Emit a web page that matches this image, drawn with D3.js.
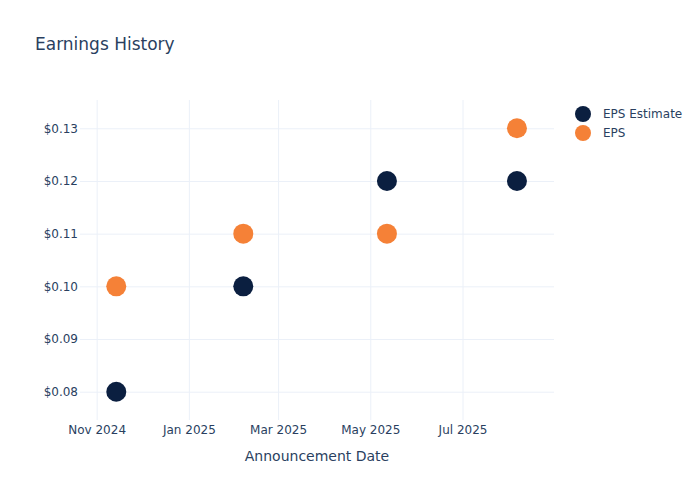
<!DOCTYPE html>
<html>
<head>
<meta charset="utf-8">
<script src="https://cdn.jsdelivr.net/npm/d3@7"></script>
<style>
  body { margin: 0; background: #fff; }
  svg, svg text { font-family: "DejaVu Sans", sans-serif; }
</style>
</head>
<body>
<svg id="chart" width="700" height="500"></svg>
<script>
const dates = ["2024-11-14", "2025-02-06", "2025-05-12", "2025-08-06"];
const epsEstimate = [0.08, 0.10, 0.12, 0.12];
const eps = [0.10, 0.11, 0.11, 0.13];
const seriesNames = ["EPS Estimate", "EPS"];
const seriesColors = ["#0b1f40", "#f58137"];
const yTicks = [0.08, 0.09, 0.10, 0.11, 0.12, 0.13];
const xTickDates = ["2024-11-01", "2025-01-01", "2025-03-01", "2025-05-01", "2025-07-01"];
const xDomain = ["2024-10-21", "2025-08-30T12:00"];
const yDomain = [0.07463, 0.13537];

const parse = d => new Date(d.length > 10 ? d : d + "T00:00:00");
const svg = d3.select("#chart");
const textColor = "#2a3f5f";
const gridColor = "#ebf0f8";
const font = "DejaVu Sans";
const m = { left: 80, right: 554, top: 100, bottom: 420 };

const x = d3.scaleTime().domain(xDomain.map(parse)).range([m.left, m.right]);
const y = d3.scaleLinear().domain(yDomain).range([m.bottom, m.top]);

// grid
const gx = svg.append("g").attr("transform", `translate(0,${m.bottom})`)
  .call(d3.axisBottom(x).tickValues(xTickDates.map(parse))
    .tickSize(-(m.bottom - m.top)).tickFormat(d3.timeFormat("%b %Y")).tickPadding(5));
gx.attr("font-family", font);
gx.select(".domain").remove();
gx.selectAll(".tick line").attr("stroke", gridColor).attr("stroke-width", 1);
gx.selectAll(".tick text").attr("fill", textColor).attr("font-size", 12);

const gy = svg.append("g").attr("transform", `translate(${m.left},0)`)
  .call(d3.axisLeft(y).tickValues(yTicks)
    .tickSize(-(m.right - m.left)).tickFormat(d => "$" + d3.format(".2f")(d)).tickPadding(2));
gy.attr("font-family", font);
gy.select(".domain").remove();
gy.selectAll(".tick line").attr("stroke", gridColor).attr("stroke-width", 1);
gy.selectAll(".tick text").attr("fill", textColor).attr("font-size", 12);

// points
const series = [epsEstimate, eps];
series.forEach((vals, si) => {
  svg.append("g").selectAll("circle")
    .data(vals.map((v, i) => ({ d: parse(dates[i]), v })))
    .join("circle")
    .attr("cx", d => x(d.d))
    .attr("cy", d => y(d.v))
    .attr("r", 10)
    .attr("fill", seriesColors[si]);
});

// title
svg.append("text").attr("x", 35).attr("y", 50).attr("fill", textColor)
  .attr("font-size", 17).text("Earnings History");

// axis title
svg.append("text").attr("x", (m.left + m.right) / 2).attr("y", 461)
  .attr("text-anchor", "middle").attr("fill", textColor).attr("font-size", 14)
  .text("Announcement Date");

// legend
const lg = svg.append("g");
seriesNames.forEach((name, i) => {
  const yy = 114 + i * 19;
  lg.append("circle").attr("cx", 583).attr("cy", yy).attr("r", 8).attr("fill", seriesColors[i]);
  lg.append("text").attr("x", 603).attr("y", yy + 4).attr("fill", textColor)
    .attr("font-size", 12).text(name);
});
</script>
</body>
</html>
